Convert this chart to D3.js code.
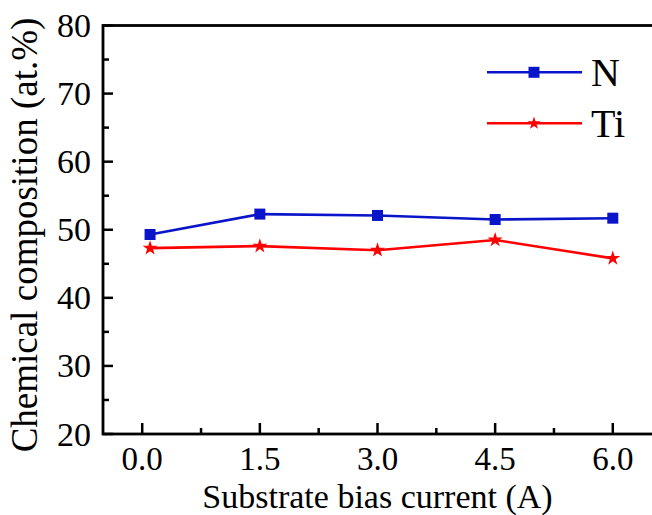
<!DOCTYPE html>
<html>
<head>
<meta charset="utf-8">
<script src="https://cdn.jsdelivr.net/npm/d3@7"></script>
<style>
html,body{margin:0;padding:0;background:#fff;}
svg{display:block;}
text{font-family:"Liberation Serif","Times New Roman",serif;fill:#000;}
</style>
</head>
<body>
<svg id="chart" width="652" height="515"></svg>
<script>
const currents = [0.1, 1.5, 3.0, 4.5, 6.0];
const nValues = [49.3, 52.3, 52.1, 51.5, 51.7];
const tiValues = [47.3, 47.6, 47.0, 48.5, 45.8];
const xTicks = [0.0, 1.5, 3.0, 4.5, 6.0];
const xMinorTicks = [0.75, 2.25, 3.75, 5.25];
const yTicks = [20, 30, 40, 50, 60, 70, 80];
const yMinorTicks = [25, 35, 45, 55, 65, 75];
const seriesNames = ["N", "Ti"];
const seriesColors = ["#0a14c8", "#ff0000"];

const svg = d3.select("#chart");
const x = d3.scaleLinear().domain([-0.5, 6.5]).range([103, 652]);
const y = d3.scaleLinear().domain([20, 80]).range([434, 25.5]);

// frame
const frame = svg.append("g").attr("stroke", "#000").attr("stroke-width", 2.8).attr("fill", "none");
frame.append("rect")
  .attr("x", x(-0.5)).attr("y", y(80))
  .attr("width", x(6.5) - x(-0.5) + 10).attr("height", y(20) - y(80));

// y ticks
const gy = svg.append("g").attr("stroke", "#000").attr("stroke-width", 2.5);
yTicks.forEach(v => {
  gy.append("line").attr("x1", x(-0.5)).attr("x2", x(-0.5) + 10).attr("y1", y(v)).attr("y2", y(v));
});
yMinorTicks.forEach(v => {
  gy.append("line").attr("x1", x(-0.5)).attr("x2", x(-0.5) + 6).attr("y1", y(v)).attr("y2", y(v));
});
svg.append("g").selectAll("text").data(yTicks).join("text")
  .attr("x", 91).attr("y", d => y(d) + 11.5)
  .attr("text-anchor", "end").attr("font-size", 34)
  .text(d => d);

// x ticks
const gx = svg.append("g").attr("stroke", "#000").attr("stroke-width", 2.5);
xTicks.forEach(v => {
  gx.append("line").attr("x1", x(v)).attr("x2", x(v)).attr("y1", y(20)).attr("y2", y(20) - 11);
});
xMinorTicks.forEach(v => {
  gx.append("line").attr("x1", x(v)).attr("x2", x(v)).attr("y1", y(20)).attr("y2", y(20) - 6);
});
svg.append("g").selectAll("text").data(xTicks).join("text")
  .attr("x", d => x(d)).attr("y", 469.5)
  .attr("text-anchor", "middle").attr("font-size", 33)
  .text(d => d.toFixed(1));

// axis titles
svg.append("text").attr("x", x(3.0)).attr("y", 507.5)
  .attr("text-anchor", "middle").attr("font-size", 34)
  .text("Substrate bias current (A)");
svg.append("text").attr("transform", "translate(37,235) rotate(-90)")
  .attr("text-anchor", "middle").attr("font-size", 37)
  .text("Chemical composition (at.%)");

// series
const line = d3.line().x((d, i) => x(currents[i])).y(d => y(d));
const square = d3.symbol().type(d3.symbolSquare).size(121);
const star = d3.symbol().type(d3.symbolStar).size(70);
const starSmall = d3.symbol().type(d3.symbolStar).size(52);

svg.append("path").datum(nValues).attr("d", line)
  .attr("fill", "none").attr("stroke", seriesColors[0]).attr("stroke-width", 2.6);
svg.append("path").datum(tiValues).attr("d", line)
  .attr("fill", "none").attr("stroke", seriesColors[1]).attr("stroke-width", 2.6);

svg.append("g").selectAll("path").data(nValues).join("path")
  .attr("d", square)
  .attr("transform", (d, i) => `translate(${x(currents[i])},${y(d)})`)
  .attr("fill", seriesColors[0]);
svg.append("g").selectAll("path").data(tiValues).join("path")
  .attr("d", star)
  .attr("transform", (d, i) => `translate(${x(currents[i])},${y(d)})`)
  .attr("fill", seriesColors[1]);

// legend
const legY = [72.3, 123.3];
seriesNames.forEach((name, k) => {
  svg.append("line").attr("x1", 487).attr("x2", 582).attr("y1", legY[k]).attr("y2", legY[k])
    .attr("stroke", seriesColors[k]).attr("stroke-width", 2.6);
  svg.append("path").attr("d", k === 0 ? square() : starSmall())
    .attr("transform", `translate(534,${legY[k]})`).attr("fill", seriesColors[k]);
  svg.append("text").attr("x", 591).attr("y", legY[k] + 14)
    .attr("font-size", 40).text(name);
});
</script>
</body>
</html>
